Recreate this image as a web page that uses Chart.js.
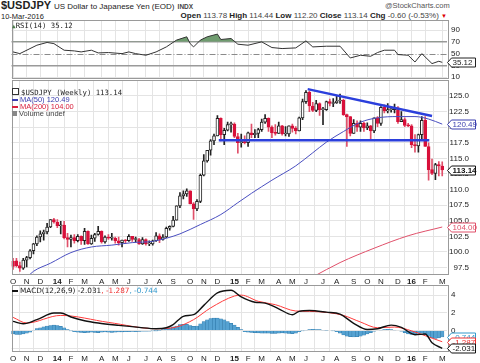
<!DOCTYPE html>
<html>
<head>
<meta charset="utf-8">
<title>$USDJPY weekly</title>
<script src="https://cdn.jsdelivr.net/npm/chart.js@4.4.1/dist/chart.umd.min.js"></script>
<style>
  body { margin: 0; width: 480px; height: 363px; position: relative; overflow: hidden; background: #fff;
         font-family: "Liberation Sans", Arial, sans-serif; color: #222; }
  canvas { position: absolute; left: 0; }
  .txt { position: absolute; white-space: nowrap; line-height: 1; }
  .mono { font-family: "DejaVu Sans Mono", monospace; font-size: 7.3px; }
  .leg { font-size: 7.5px; line-height: 7px; }
  .dash { display: inline-block; width: 6px; height: 2px; vertical-align: middle; margin-right: 2px; }
  .gray { color: #444; font-weight: normal; }
</style>
</head>
<body>
<div class="txt" style="left:1px;top:0px;font-size:11px;font-weight:bold">$USDJPY <span style="font-size:8px;font-weight:normal">US Dollar to Japanese Yen (EOD)</span> <span style="font-size:6.5px;color:#444">INDX</span></div>
<div class="txt" style="left:385px;top:2px;font-size:7.5px;color:#555">@StockCharts.com</div>
<div class="txt" style="left:1px;top:13px;font-size:7.5px">10-Mar-2016</div>
<div class="txt" style="right:33px;top:12px;font-size:8px;font-weight:bold">Open <span class="gray">113.78</span> High <span class="gray">114.44</span> Low <span class="gray">112.20</span> Close <span class="gray">113.14</span> Chg <span class="gray">-0.60 (-0.53%)</span> <span style="color:#d00;font-size:6px">&#9660;</span></div>

<canvas id="rsi" width="480" height="59" style="top:20px"></canvas>
<canvas id="main" width="480" height="208" style="top:80px"></canvas>
<canvas id="macd" width="480" height="78" style="top:285px"></canvas>

<div class="txt mono" style="left:12px;top:22px"><span style="color:#4a7a4a;font-size:6px">&#9650;</span>RSI(14) 35.12</div>
<div class="txt leg" style="left:12px;top:88px">
  <div class="mono"><span style="display:inline-block;width:5px;height:5px;border:1px solid #333;margin-right:2px"></span>$USDJPY (Weekly) 113.14</div>
  <div style="color:#3a3fae"><span class="dash" style="background:#3a3fae"></span>MA(50) 120.49</div>
  <div style="color:#d8203c"><span class="dash" style="background:#d8203c"></span>MA(200) 104.00</div>
  <div style="color:#444"><span style="display:inline-block;width:5px;height:5px;background:#888;margin-right:2px"></span>Volume undef</div>
</div>
<div class="txt" style="left:12px;top:287px;font-family:'DejaVu Sans';font-size:7.3px"><span class="dash" style="background:#111"></span>MACD(12,26,9) -2.031<span style="color:#f03030">, -1.287</span><span style="color:#3399cc">, -0.744</span></div>

<script>
// weekly bars, Monday 7-Oct-2013 .. Monday 7-Mar-2016
const firstWeek = Date.UTC(2013, 9, 7);
const weekCount = 127;
const monthLetters = ['J', 'F', 'M', 'A', 'M', 'J', 'J', 'A', 'S', 'O', 'N', 'D'];
const priceTicks = [97.5, 100, 102.5, 105, 107.5, 110, 112.5, 115, 117.5, 120, 122.5, 125];
const rsiTicks = [10, 30, 50, 70, 90];
const macdTicks = [-2, 0, 2, 4];

const opens = [98.5, 98.6, 97.8, 97.4, 98.7, 99.1, 100.2, 101.3, 102.4, 102.9, 103.2, 104.0, 105.2, 104.8, 104.2, 104.3,
  102.3, 102.0, 102.3, 101.8, 102.5, 101.8, 103.3, 101.3, 102.2, 102.8, 103.3, 101.6, 102.4, 102.2, 102.2, 101.8,
  101.5, 101.9, 101.8, 102.5, 102.0, 102.0, 101.3, 102.0, 101.3, 101.3, 101.8, 102.6, 102.0, 102.4, 103.8, 104.1,
  105.1, 107.4, 109.0, 109.3, 109.8, 107.7, 106.9, 108.1, 112.3, 114.6, 116.3, 117.8, 118.6, 121.4, 118.8, 119.5,
  120.4, 120.5, 118.5, 117.5, 117.7, 117.5, 119.1, 118.8, 119.0, 119.6, 120.8, 121.4, 120.0, 119.1, 119.0, 120.2,
  118.9, 118.9, 120.2, 119.8, 119.4, 121.5, 124.1, 125.6, 123.4, 122.7, 123.8, 122.8, 122.8, 124.1, 123.8, 123.9,
  124.2, 124.3, 122.0, 121.7, 119.0, 120.6, 120.0, 120.6, 119.9, 120.2, 119.4, 121.5, 120.6, 123.2, 122.6, 122.8,
  122.8, 123.1, 120.9, 121.2, 120.3, 120.2, 117.2, 117.0, 118.8, 121.1, 116.9, 113.2, 112.6, 114.0, 113.78];
const highs = [99.0, 99.0, 98.4, 99.0, 99.3, 100.4, 101.4, 102.6, 103.4, 103.5, 104.6, 105.2, 105.4, 105.2, 104.9, 104.9,
  103.0, 102.7, 102.8, 102.8, 102.6, 103.8, 103.4, 102.7, 103.0, 104.1, 103.4, 102.6, 102.8, 103.0, 102.4, 102.4,
  101.9, 102.0, 102.8, 102.5, 102.4, 102.2, 102.3, 102.1, 101.8, 101.9, 103.1, 102.9, 102.8, 104.0, 104.2, 105.7,
  107.4, 109.5, 109.8, 110.1, 109.8, 107.9, 108.4, 112.5, 115.6, 116.3, 118.0, 118.9, 121.85, 121.5, 119.8, 120.8,
  120.8, 120.7, 119.0, 118.9, 118.6, 119.2, 120.5, 119.6, 119.8, 121.3, 122.0, 121.5, 120.2, 120.4, 120.8, 120.3,
  120.1, 120.2, 120.5, 120.1, 121.6, 124.5, 125.85, 125.8, 124.0, 124.3, 123.9, 123.2, 124.2, 124.5, 124.6, 125.1,
  125.3, 124.5, 122.1, 121.7, 121.2, 121.0, 121.0, 120.8, 120.7, 120.3, 121.5, 121.7, 123.3, 123.6, 123.8, 123.1,
  123.7, 123.3, 122.5, 121.5, 120.6, 120.4, 118.8, 118.9, 121.7, 121.7, 117.5, 114.9, 114.2, 114.5, 114.44];
const lows = [97.2, 97.6, 96.9, 97.2, 97.6, 98.9, 99.7, 101.0, 101.6, 101.9, 102.9, 103.9, 104.6, 103.9, 102.9, 102.1,
  100.8, 100.8, 101.4, 101.6, 101.2, 101.2, 101.2, 101.2, 101.7, 102.7, 101.4, 101.4, 102.0, 101.9, 101.4, 101.1,
  100.8, 101.4, 101.7, 101.7, 101.6, 101.2, 101.2, 101.1, 101.0, 101.1, 101.7, 101.5, 101.9, 102.3, 103.5, 104.0,
  105.1, 107.1, 108.5, 108.9, 107.7, 105.2, 106.6, 107.9, 112.2, 114.4, 115.5, 117.2, 118.6, 117.8, 117.2, 119.4,
  119.2, 118.3, 115.85, 116.8, 117.3, 116.9, 118.3, 118.3, 118.3, 119.3, 120.6, 119.3, 118.3, 118.7, 119.0, 118.7,
  118.6, 118.5, 119.2, 118.9, 119.4, 121.2, 123.8, 122.5, 122.5, 122.5, 121.9, 120.4, 122.7, 123.4, 123.3, 123.8,
  123.8, 121.9, 116.9, 118.6, 119.0, 119.3, 119.3, 119.3, 119.6, 118.1, 119.1, 120.1, 120.3, 122.3, 122.3, 122.4,
  122.3, 120.6, 120.9, 120.1, 120.1, 116.7, 115.98, 115.98, 118.0, 116.9, 111.5, 112.4, 111.6, 112.2, 112.2];
const closes = [97.7, 97.8, 97.4, 98.7, 99.1, 100.2, 101.3, 102.4, 102.9, 103.2, 104.0, 105.2, 104.8, 104.2, 104.3, 102.3,
  102.0, 102.3, 101.8, 102.5, 101.8, 103.3, 101.3, 102.2, 102.8, 103.3, 101.6, 102.4, 102.2, 102.2, 101.8, 101.5,
  101.9, 101.8, 102.5, 102.0, 102.0, 101.3, 102.0, 101.3, 101.3, 101.8, 102.6, 102.0, 102.4, 103.8, 104.1, 105.1,
  107.4, 109.0, 109.3, 109.8, 107.7, 106.9, 108.1, 112.3, 114.6, 116.3, 117.8, 118.6, 121.4, 118.8, 119.5, 120.4,
  120.5, 118.5, 117.5, 117.7, 117.5, 119.1, 118.8, 119.0, 119.6, 120.8, 121.4, 120.0, 119.1, 119.0, 120.2, 118.9,
  118.9, 120.2, 119.8, 119.4, 121.5, 124.1, 125.6, 123.4, 122.7, 123.8, 122.8, 122.8, 124.1, 123.8, 123.9, 124.2,
  124.3, 122.0, 121.7, 119.0, 120.6, 120.0, 120.6, 119.9, 120.2, 119.4, 121.5, 120.6, 123.2, 122.6, 122.8, 122.8,
  123.1, 120.9, 121.2, 120.3, 120.2, 117.2, 117.0, 118.8, 121.1, 116.9, 113.2, 112.6, 114.0, 113.8, 113.14];

const ma50Weeks = [4, 6, 11, 17, 23, 29, 35, 41, 45, 49, 55, 61, 66, 70, 76, 83, 88, 92, 97, 102, 107, 113, 118, 122, 126];
const ma50Values = [95.9, 96.9, 98.2, 99.9, 100.8, 101.1, 101.5, 101.7, 102.2, 102.9, 104.4, 106.0, 107.9, 109.4, 111.5,
  113.8, 115.9, 117.6, 119.3, 120.8, 121.5, 121.7, 121.7, 121.3, 120.49];
const ma200Weeks = [88, 96, 106, 116, 126];
const ma200Values = [96.0, 98.3, 100.6, 102.6, 104.0];

// hand-drawn trend lines on the chart
const resistWeeks = [86.5, 123];
const resistValues = [126.1, 121.8];
const supportWeeks = [60.4, 122.2];
const supportValues = [117.9, 117.9];

const rsiWeeks = [0, 2, 7, 10, 12, 15, 18, 20, 23, 25, 28, 32, 34, 36, 39, 42, 45, 48, 51, 52, 53, 55, 57, 60, 61, 64, 66,
  69, 73, 76, 79, 83, 86, 88, 92, 96, 99, 102, 105, 107, 109, 112, 113, 116, 118, 120, 123, 125, 126];
const rsiValues = [52.9, 50, 64.3, 69, 67, 55.8, 54.6, 52.9, 55.8, 51.2, 51.8, 50, 52.9, 50, 47.2, 52.9, 61.4, 73, 78.6, 67,
  61.4, 73, 78.6, 83.2, 74, 75.7, 66, 64.3, 70, 60.3, 58.6, 59.7, 71.7, 61.4, 62.6, 62.6, 42.6, 47.2, 45.5, 51.8, 55.8,
  55.8, 48.4, 47.2, 35.7, 50, 33, 37, 35.12];

const macdWeeks = [0, 3, 7, 12, 14, 17, 21, 25, 31, 37, 42, 45, 47, 50, 53, 56, 60, 64, 67, 71, 74, 78, 82, 84, 87, 92, 96,
  100, 104, 107, 111, 114, 118, 121, 123, 126];
const macdValues = [1.02, 0.76, 1.22, 1.97, 1.97, 1.52, 1.1, 0.84, 0.57, 0.34, 0.19, 0.3, 0.65, 1.6, 1.78, 2.84, 4.25, 4.55,
  3.8, 3.2, 3.1, 2.45, 1.78, 2.16, 2.25, 2.07, 1.85, 0.8, 0.1, 0.19, 0.6, 0.35, -0.49, -0.41, -1.4, -2.031];
const signalWeeks = [0, 4, 14, 28, 42, 48, 53, 58, 65, 67, 72, 77, 83, 87, 93, 97, 102, 107, 112, 117, 121, 126];
const signalValues = [1.48, 0.84, 1.7, 0.91, 0.19, 0.39, 1.22, 2.55, 3.9, 4.0, 3.3, 2.92, 2.2, 2.16, 2.0, 1.7, 0.95, 0.3,
  0.38, -0.05, -0.6, -1.287];
const histValues = [-0.40, -0.45, -0.45, -0.40, -0.30, -0.20,
  0.05, 0.20, 0.30, 0.40,
  0.50, 0.55, 0.60, 0.55, 0.45, 0.30,
  0.10, -0.05, -0.15,
  -0.20, -0.22, -0.25, -0.22, -0.20, -0.22, -0.25, -0.20, -0.18, -0.20, -0.22, -0.20, -0.18, -0.17, -0.15, -0.15, -0.12,
  -0.15, -0.12, -0.10,
  -0.10, -0.08, -0.05, -0.02, 0.02,
  0.10, 0.20, 0.30, 0.40, 0.50, 0.65, 0.70,
  0.70, 0.55, 0.45, 0.50, 0.75, 1.00,
  1.20, 1.35, 1.40, 1.40, 1.30, 1.20,
  1.00, 0.80, 0.60, 0.35, 0.10,
  -0.15, -0.20, -0.22, -0.25, -0.28, -0.30, -0.30, -0.32, -0.35, -0.35, -0.30, -0.28, -0.30, -0.35, -0.38, -0.30, -0.15,
  -0.05,
  0.05, 0.10, 0.12, 0.10, 0.08, 0.05, 0.03, 0.00, -0.05,
  -0.15, -0.30, -0.50, -0.65, -0.72, -0.75, -0.72, -0.65, -0.55, -0.40, -0.25, -0.10,
  0.00, 0.05, 0.10, 0.12, 0.10, 0.05, 0.00, -0.10,
  -0.25, -0.40, -0.45, -0.40, -0.35, -0.30,
  -0.45, -0.65, -0.85, -0.90, -0.85, -0.744];

const RED = '#d8103a';
const GRID = '#e4e4e4';

Chart.defaults.font.family = '"Liberation Sans", Arial, sans-serif';
Chart.defaults.font.size = 8;
Chart.defaults.color = '#222';

// first weekly bar of every month gets a tick
const monthTicks = [];
for (let i = 0, prev = -1; i < weekCount; i++) {
  const d = new Date(firstWeek + i * 7 * 86400000);
  const m = d.getUTCMonth();
  if (m !== prev) {
    monthTicks.push({ week: i, label: m === 0 ? String(d.getUTCFullYear()).slice(2) : monthLetters[m], year: m === 0 });
  }
  prev = m;
}
const tickByWeek = {};
monthTicks.forEach(t => { tickByWeek[t.week] = t; });

const pts = (xs, ys) => xs.map((x, k) => ({ x: x, y: ys[k] }));
const idx = Array.from({ length: weekCount }, (_, i) => i);
const isUp = i => closes[i] >= opens[i];

function xAxis(showLabels, height) {
  return {
    type: 'linear', min: -0.45, max: 127.4, offset: false,
    afterBuildTicks: s => { s.ticks = monthTicks.map(t => ({ value: t.week })); },
    ticks: {
      display: showLabels, autoSkip: false, maxRotation: 0, padding: 2, color: '#222',
      font: c => ({ size: 8, weight: c.tick && tickByWeek[c.tick.value] && tickByWeek[c.tick.value].year ? 'bold' : 'normal' }),
      callback: v => (tickByWeek[v] ? tickByWeek[v].label : '')
    },
    grid: { color: GRID, drawTicks: false },
    border: { display: false },
    afterFit: s => { s.height = height; s.paddingLeft = 0; s.paddingRight = 0; }
  };
}

function yAxis(min, max, tickValues, fmt, align, pad, gridColor, gridWidth) {
  return {
    position: 'right', min: min, max: max,
    afterBuildTicks: s => { s.ticks = tickValues.map(v => ({ value: v })); },
    ticks: { callback: fmt, autoSkip: false, crossAlign: align, padding: pad, color: '#222', font: { size: 8 } },
    grid: { color: gridColor || GRID, lineWidth: gridWidth || 1, drawTicks: false },
    border: { display: false },
    afterFit: s => { s.width = 22; s.paddingTop = 0; s.paddingBottom = 0; }
  };
}

function drawTag(chart, value, text, color, bold) {
  const ctx = chart.ctx;
  const y = Math.round(chart.scales.y.getPixelForValue(value)) + 0.5;
  const x0 = chart.chartArea.right + 0.5, h = 9, w = 28;
  ctx.save();
  ctx.beginPath();
  ctx.moveTo(x0, y);
  ctx.lineTo(x0 + 4, y - h / 2);
  ctx.lineTo(x0 + w, y - h / 2);
  ctx.lineTo(x0 + w, y + h / 2);
  ctx.lineTo(x0 + 4, y + h / 2);
  ctx.closePath();
  ctx.fillStyle = '#fff';
  ctx.fill();
  ctx.strokeStyle = color;
  ctx.lineWidth = 1;
  ctx.stroke();
  ctx.fillStyle = color;
  ctx.font = (bold ? 'bold ' : '') + '8px "Liberation Sans", Arial';
  ctx.textBaseline = 'middle';
  ctx.textAlign = 'left';
  ctx.fillText(text, x0 + 5, y + 0.5);
  ctx.restore();
}

function panel(tags, levels) {
  return {
    id: 'panel',
    beforeDatasetsDraw(chart) {
      const ctx = chart.ctx, a = chart.chartArea;
      (levels || []).forEach(lv => {
        const y = Math.round(chart.scales.y.getPixelForValue(lv)) + 0.5;
        ctx.save();
        ctx.strokeStyle = '#8a8a8a';
        ctx.lineWidth = 1;
        ctx.setLineDash([6, 2, 1, 2]);
        ctx.beginPath();
        ctx.moveTo(a.left, y);
        ctx.lineTo(a.right, y);
        ctx.stroke();
        ctx.restore();
      });
    },
    afterDraw(chart) {
      const ctx = chart.ctx, a = chart.chartArea;
      ctx.save();
      ctx.strokeStyle = '#9a9a9a';
      ctx.lineWidth = 1;
      ctx.strokeRect(Math.round(a.left) + 0.5, Math.round(a.top) + 0.5, Math.round(a.right - a.left), Math.round(a.bottom - a.top) - 1);
      ctx.restore();
      tags.forEach(t => drawTag(chart, t.value, t.text, t.color, t.bold));
    }
  };
}

const common = {
  responsive: false,
  animation: false,
  events: [],
  layout: { padding: { left: 11.5, right: 11, top: 0, bottom: 0 } },
  plugins: { legend: { display: false }, tooltip: { enabled: false } }
};

// RSI panel
new Chart(document.getElementById('rsi'), {
  type: 'line',
  data: {
    datasets: [{
      data: pts(rsiWeeks, rsiValues),
      borderColor: '#333', borderWidth: 1, pointRadius: 0, tension: 0,
      fill: { target: { value: 70 }, above: '#6f9c6f', below: 'rgba(0,0,0,0)' }
    }]
  },
  options: Object.assign({}, common, {
    scales: {
      x: xAxis(false, 0),
      y: yAxis(6.8, 107.2, rsiTicks, v => String(v), 'near', 4,
        c => (c.tick.value === 70 || c.tick.value === 30 ? '#9a9a9a' : c.tick.value === 50 ? 'rgba(0,0,0,0)' : GRID),
        c => (c.tick.value === 70 || c.tick.value === 30 ? 1.5 : 1))
    }
  }),
  plugins: [panel([{ value: rsiValues[rsiValues.length - 1], text: '35.12', color: '#222' }], [50])]
});

// price panel
new Chart(document.getElementById('main'), {
  type: 'bar',
  data: {
    datasets: [
      {
        type: 'line', data: pts(resistWeeks, resistValues), borderColor: '#2b3fdc', borderWidth: 2.5,
        pointRadius: 0, order: 0
      },
      {
        type: 'line', data: pts(supportWeeks, supportValues), borderColor: '#2b3fdc', borderWidth: 2.5,
        pointRadius: 0, order: 0
      },
      {
        type: 'line', data: pts(ma50Weeks, ma50Values), borderColor: '#4a4fc0', borderWidth: 1,
        pointRadius: 0, cubicInterpolationMode: 'monotone', order: 1
      },
      {
        type: 'line', data: pts(ma200Weeks, ma200Values), borderColor: '#e0506a', borderWidth: 1,
        pointRadius: 0, cubicInterpolationMode: 'monotone', order: 1
      },
      {
        data: idx.map(i => ({ x: i, y: [opens[i], closes[i]] })),
        backgroundColor: idx.map(i => (isUp(i) ? '#fff' : RED)),
        borderColor: idx.map(i => (isUp(i) ? '#222' : RED)),
        borderWidth: 1, borderSkipped: false, barThickness: 3, minBarLength: 1, grouped: false, order: 2
      },
      {
        data: idx.map(i => ({ x: i, y: [lows[i], highs[i]] })),
        backgroundColor: idx.map(i => (isUp(i) ? '#222' : '#e0506a')),
        barThickness: 1, grouped: false, order: 3
      }
    ]
  },
  options: Object.assign({}, common, {
    scales: {
      x: xAxis(true, 13),
      y: yAxis(96.31, 127.56, priceTicks, v => v.toFixed(1), 'far', 2)
    }
  }),
  plugins: [panel([
    { value: ma200Values[ma200Values.length - 1], text: '104.00', color: '#e0506a' },
    { value: ma50Values[ma50Values.length - 1], text: '120.49', color: '#3a3fae' },
    { value: closes[closes.length - 1], text: '113.14', color: '#111', bold: true }
  ])]
});

// MACD panel
new Chart(document.getElementById('macd'), {
  type: 'bar',
  data: {
    datasets: [
      {
        type: 'line', data: pts(macdWeeks, macdValues), borderColor: '#111', borderWidth: 1.4,
        pointRadius: 0, cubicInterpolationMode: 'monotone', order: 0
      },
      {
        type: 'line', data: pts(signalWeeks, signalValues), borderColor: '#ff3b3b', borderWidth: 1,
        pointRadius: 0, cubicInterpolationMode: 'monotone', order: 1
      },
      {
        data: idx.map(i => ({ x: i, y: histValues[i] })),
        backgroundColor: '#55a2d2', borderColor: '#2f78a8', borderWidth: 0.5,
        barThickness: 3.4, grouped: false, order: 2
      }
    ]
  },
  options: Object.assign({}, common, {
    scales: {
      x: xAxis(true, 11),
      y: yAxis(-2.45, 5.15, macdTicks, v => String(v), 'near', 4)
    }
  }),
  plugins: [panel([
    { value: histValues[histValues.length - 1], text: '-0.744', color: '#3399cc' },
    { value: signalValues[signalValues.length - 1], text: '-1.287', color: '#f03030' },
    { value: macdValues[macdValues.length - 1], text: '-2.031', color: '#111' }
  ])]
});
</script>
</body>
</html>
